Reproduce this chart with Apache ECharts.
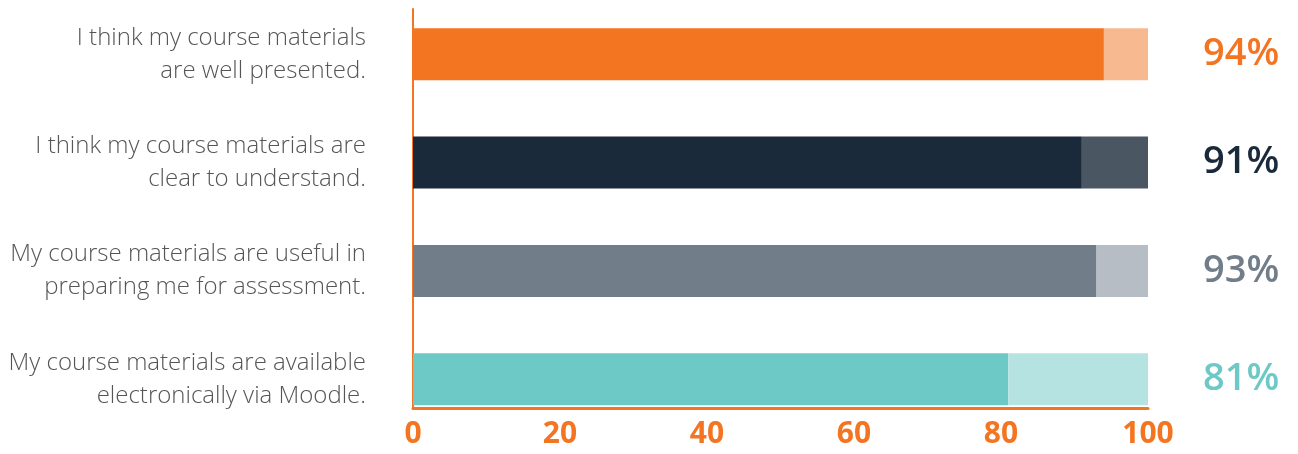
<!DOCTYPE html>
<html>
<head>
<meta charset="utf-8">
<script src="https://cdn.jsdelivr.net/npm/echarts@6/dist/echarts.min.js"></script>
<style>
html,body{margin:0;padding:0;background:#fff;}
#chart{width:1298px;height:454px;}
</style>
</head>
<body>
<div id="chart"></div>
<script>
const categories = [
  'I think my course materials\nare well presented.',
  'I think my course materials are\nclear to understand.',
  'My course materials are useful in\npreparing me for assessment.',
  'My course materials are available\nelectronically via Moodle.'
];
const agreeValues = [94, 91, 93, 81];
const remainderValues = [6, 9, 7, 19];
const percentLabels = ['94%', '91%', '93%', '81%'];
const xTicks = [0, 20, 40, 60, 80, 100];
const mainColors = ['#F47521', '#1B2A3A', '#717D89', '#6DC9C5'];
const lightColors = ['#F7B98F', '#4A5762', '#B6BDC4', '#B5E3E1'];

const chart = echarts.init(document.getElementById('chart'), null, {renderer: 'canvas'});
const orange = '#F47521';
chart.setOption({
  animation: false,
  grid: [
    {left: 413, right: 150, top: -3.5, bottom: 20.5, containLabel: false},
    {left: 413, right: 150, top: 9, bottom: 46, containLabel: false}
  ],
  xAxis: [
    {gridIndex: 0, type: 'value', min: 0, max: 100, show: false},
    {gridIndex: 1, type: 'value', min: xTicks[0], max: xTicks[xTicks.length - 1], interval: 20,
     offset: 7,
     axisLine: {show: true, lineStyle: {color: orange, width: 3}},
     axisTick: {show: false}, splitLine: {show: false},
     axisLabel: {color: orange, fontSize: 30, fontWeight: 'bold', fontFamily: 'Open Sans', margin: 4}}
  ],
  yAxis: [
    {gridIndex: 0, type: 'category', inverse: true, data: categories,
     axisLine: {show: false}, axisTick: {show: false},
     axisLabel: {margin: 47, color: '#555555', fontSize: 24, fontWeight: 300, fontFamily: 'Open Sans', lineHeight: 33, align: 'right'}},
    {gridIndex: 0, type: 'category', inverse: true, position: 'right', data: percentLabels,
     axisLine: {show: false}, axisTick: {show: false},
     axisLabel: {margin: 55, fontSize: 38, fontWeight: 600, fontFamily: 'Open Sans', align: 'left',
       color: function (v, i) { return mainColors[i]; }}},
    {gridIndex: 1, type: 'value', min: 0, max: 1,
     axisLine: {show: true, lineStyle: {color: orange, width: 2}},
     axisTick: {show: false}, axisLabel: {show: false}, splitLine: {show: false}}
  ],
  series: [
    {type: 'bar', xAxisIndex: 0, yAxisIndex: 0, stack: 's', barWidth: 52,
     data: agreeValues.map((v, i) => ({value: v, itemStyle: {color: mainColors[i]}}))},
    {type: 'bar', xAxisIndex: 0, yAxisIndex: 0, stack: 's', barWidth: 52,
     data: remainderValues.map((v, i) => ({value: v, itemStyle: {color: lightColors[i]}}))}
  ]
});
</script>
</body>
</html>
